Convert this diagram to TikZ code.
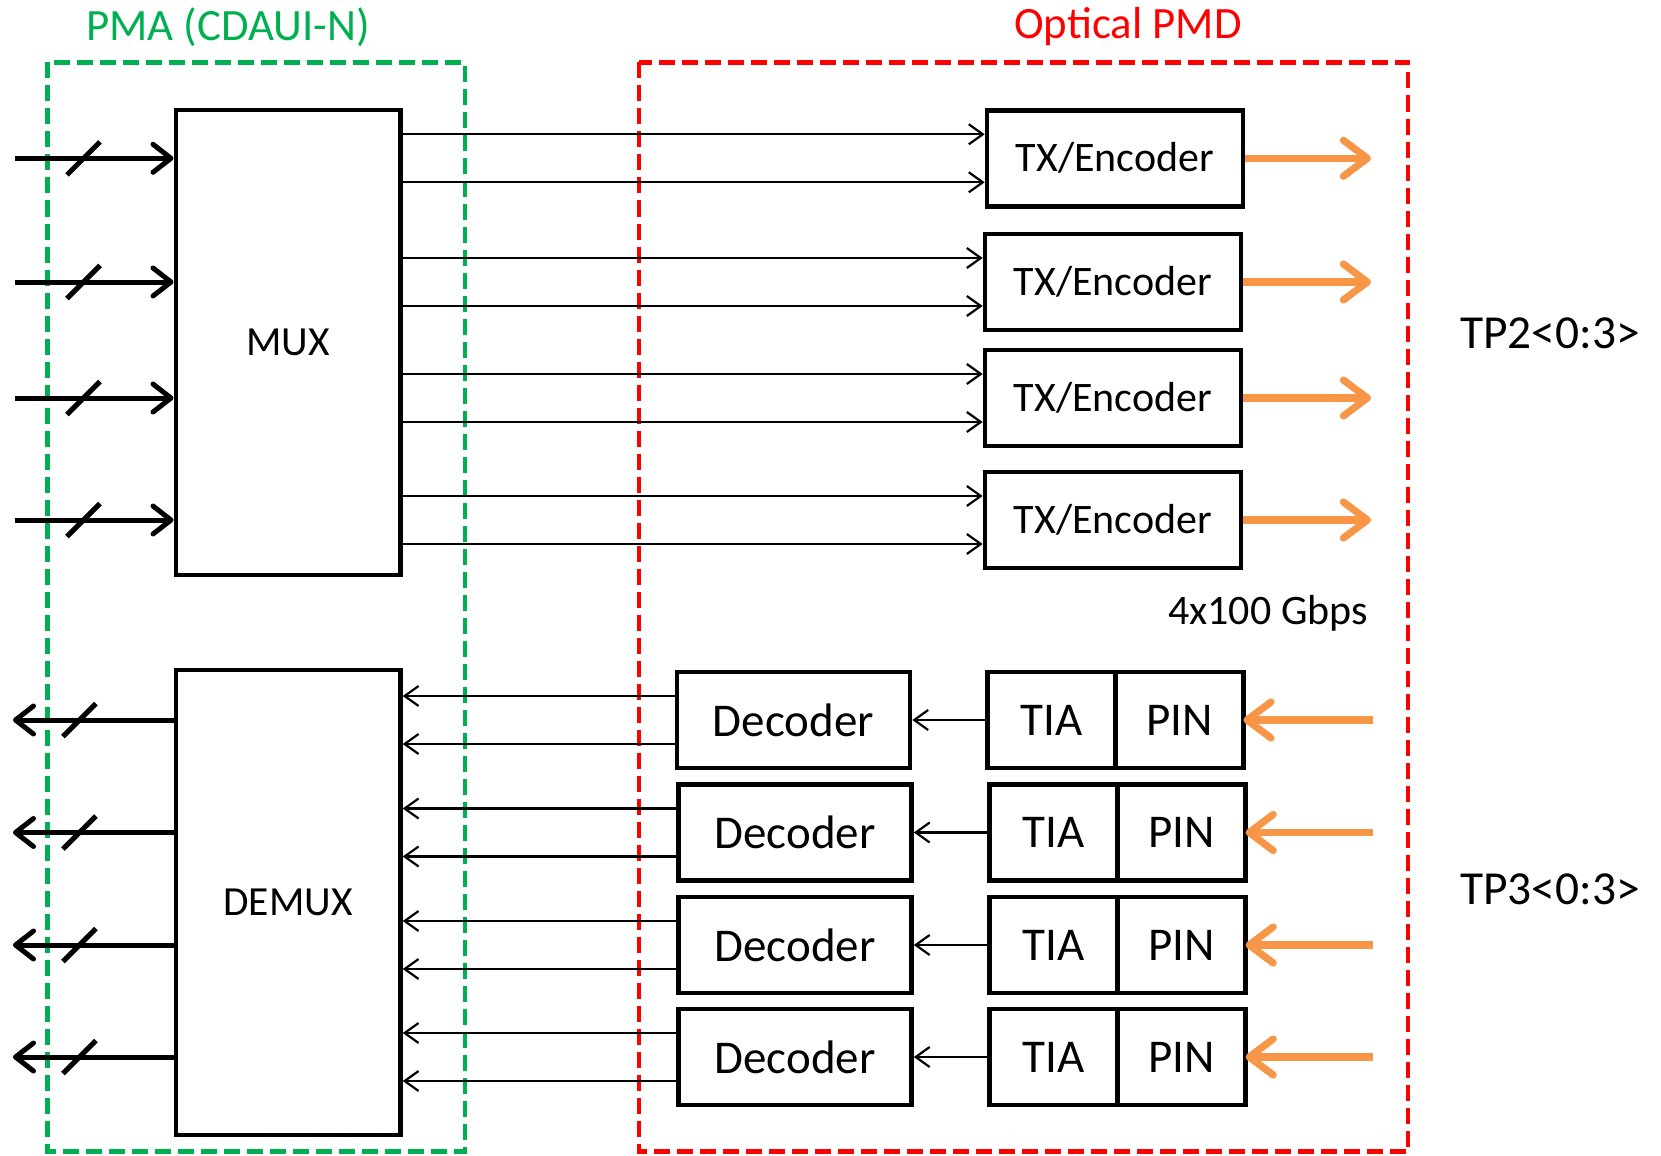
\documentclass[tikz,border=0pt]{standalone}
\usepackage{fontspec}
\setmainfont{Carlito}
\usetikzlibrary{arrows.meta}
\definecolor{pmagreen}{RGB}{0,176,80}
\definecolor{pmdred}{RGB}{255,0,0}
\definecolor{lightorange}{RGB}{247,150,70}
\tikzset{
  blockbox/.style={draw=black, line width=2.3pt, inner sep=0pt, align=center},
  txbox/.style={blockbox, minimum width=128pt, minimum height=48pt, font=\fontsize{21}{24}\selectfont},
  decbox/.style={blockbox, minimum width=116.5pt, minimum height=48pt, font=\fontsize{23.5}{26}\selectfont},
  halfbox/.style={blockbox, outer sep=0pt, minimum width=64pt, minimum height=48pt, font=\fontsize{23.5}{26}\selectfont},
  bigbox/.style={blockbox, minimum width=112.3pt, minimum height=232.5pt, font=\fontsize{20.7}{24}\selectfont},
  lane/.style={draw=black, line width=1.1pt, -{Straight Barb[length=7pt,width=10pt]}},
  bus/.style={draw=black, line width=2.5pt, -{Straight Barb[length=9pt,width=14pt,round]}},
  busmark/.style={draw=black, line width=2.5pt},
  optic/.style={draw=lightorange, line width=3.6pt, -{Straight Barb[length=12pt,width=18pt,round]}},
  region/.style={line width=2.3pt, dash pattern=on 8pt off 3.5pt},
}
\begin{document}
\begin{tikzpicture}[x=0.5pt,y=-0.5pt]
\useasboundingbox (0,0) rectangle (1661,1156);

% layer boundaries
\draw[region, draw=pmagreen] (47.7,62.5) rectangle (465,1151.5);
\draw[region, draw=pmdred] (638.8,62.5) rectangle (1407.8,1151.5);
\node[text=pmagreen, font=\fontsize{22.4}{26}\selectfont] (pmalabel) at (228,27) {PMA (CDAUI-N)};
\node[text=pmdred, font=\fontsize{22.4}{26}\selectfont] (pmdlabel) at (1128,27) {Optical PMD};

% multiplexer and demultiplexer
\node[bigbox] (mux) at (288.1,342.5) {MUX};
\node[bigbox] (demux) at (288.1,902.5) {DEMUX};

% transmit lanes
\foreach \i/\x/\y in {1/1115/158.3, 2/1113/282, 3/1113/398, 4/1113/520} {
  \node[txbox] (tx\i) at (\x,\y) {TX/Encoder};
  \coordinate (txa\i) at ([yshift=12pt]tx\i.west);
  \coordinate (txb\i) at ([yshift=-12pt]tx\i.west);
  \draw[lane] (mux.east |- txa\i) -- (txa\i);
  \draw[lane] (mux.east |- txb\i) -- (txb\i);
  \coordinate (txout\i) at (1371,\y);
  \draw[optic] (tx\i.east) -- (txout\i);
  \coordinate (busin\i) at (15,\y);
  \draw[bus] (busin\i) -- (busin\i -| mux.west);
  \draw[busmark] ([shift={(52,16.5)}]busin\i) -- ++(33,-33);
}

% receive lanes
\foreach \i/\dx/\tx/\y in {1/793.5/1115.4/720, 2/795/1117.6/832.5, 3/795/1117.6/945, 4/795/1117.6/1057} {
  \node[decbox] (dec\i) at (\dx,\y) {Decoder};
  \node[halfbox, anchor=east] (tia\i) at (\tx,\y) {TIA};
  \node[halfbox, anchor=west] (pin\i) at (\tx,\y) {PIN};
  \draw[lane] (tia\i.west) -- (dec\i.east);
  \coordinate (rxa\i) at ([yshift=12pt]dec\i.west);
  \coordinate (rxb\i) at ([yshift=-12pt]dec\i.west);
  \draw[lane] (rxa\i) -- (rxa\i -| demux.east);
  \draw[lane] (rxb\i) -- (rxb\i -| demux.east);
  \coordinate (rxin\i) at (1373,\y);
  \draw[optic] (rxin\i) -- (pin\i.east);
  \coordinate (busout\i) at (13,\y);
  \draw[bus] (busout\i -| demux.west) -- (busout\i);
  \draw[busmark] ([shift={(50,16.5)}]busout\i) -- ++(33,-33);
}

% labels
\node[font=\fontsize{21}{24}\selectfont] (rate) at (1268,613) {4x100 Gbps};
\node[font=\fontsize{23.7}{26}\selectfont] (tp2) at (1550,333) {TP2<0:3>};
\node[font=\fontsize{23.7}{26}\selectfont] (tp3) at (1550,889) {TP3<0:3>};
\end{tikzpicture}
\end{document}
